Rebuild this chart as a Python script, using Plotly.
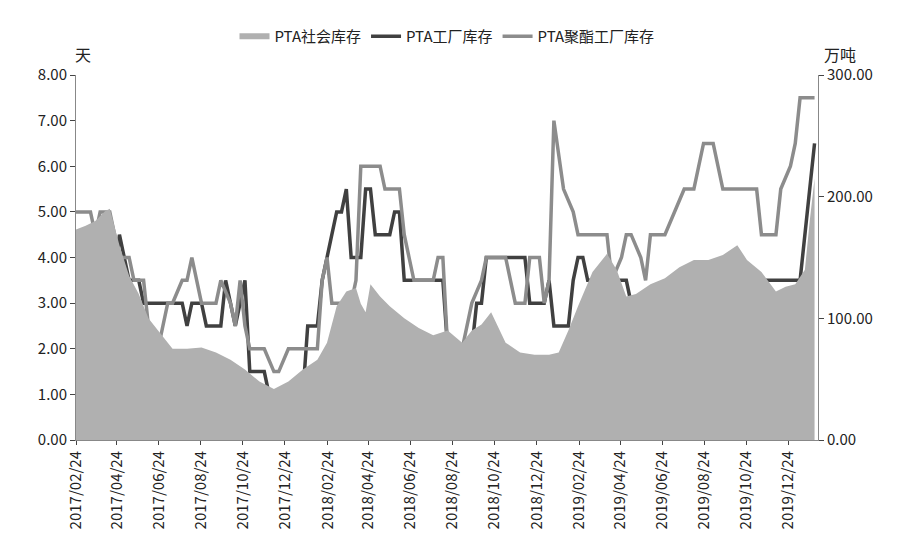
import plotly.graph_objects as go

soc_dates = ["2017-02-24","2017-03-10","2017-03-24","2017-04-07","2017-04-14","2017-04-28","2017-05-12","2017-05-26","2017-06-09","2017-06-23","2017-07-14","2017-08-04","2017-08-25","2017-09-15","2017-10-06","2017-10-27","2017-11-17","2017-12-08","2017-12-29","2018-01-19","2018-02-09","2018-02-23","2018-03-09","2018-03-23","2018-04-06","2018-04-13","2018-04-20","2018-04-27","2018-05-11","2018-05-25","2018-06-15","2018-07-06","2018-07-27","2018-08-17","2018-09-07","2018-09-21","2018-10-05","2018-10-19","2018-11-09","2018-11-30","2018-12-21","2019-01-11","2019-01-25","2019-02-08","2019-02-22","2019-03-15","2019-04-05","2019-04-19","2019-05-03","2019-05-17","2019-06-07","2019-06-28","2019-07-19","2019-08-09","2019-08-30","2019-09-20","2019-10-11","2019-10-25","2019-11-15","2019-12-06","2019-12-20","2020-01-03","2020-01-17","2020-01-24","2020-01-31"]
soc_vals = [173,176,180,188,190,160,135,120,100,90,75,75,76,72,66,58,48,42,48,58,66,80,110,122,125,112,105,128,118,110,100,92,86,90,80,90,95,105,80,72,70,70,72,90,110,138,153,140,118,120,128,133,142,148,148,152,160,148,138,122,126,128,140,180,215]

fac_dates = ["2017-02-24","2017-03-24","2017-03-31","2017-04-14","2017-04-21","2017-04-28","2017-05-05","2017-05-12","2017-05-26","2017-06-02","2017-07-28","2017-08-04","2017-08-11","2017-08-25","2017-09-01","2017-09-22","2017-09-29","2017-10-06","2017-10-13","2017-10-27","2017-11-03","2017-11-24","2017-12-01","2018-01-19","2018-01-26","2018-02-09","2018-02-16","2018-03-02","2018-03-09","2018-03-16","2018-03-23","2018-03-30","2018-04-13","2018-04-20","2018-04-27","2018-05-04","2018-05-25","2018-06-01","2018-06-08","2018-06-15","2018-08-10","2018-08-17","2018-09-21","2018-09-28","2018-10-05","2018-10-12","2018-12-07","2018-12-14","2019-01-04","2019-01-11","2019-01-18","2019-02-08","2019-02-15","2019-02-22","2019-03-01","2019-03-08","2019-05-03","2019-05-10","2019-08-02","2019-08-09","2020-01-10","2020-01-31"]
fac_vals = [3.5,3.5,3.0,3.0,3.5,4.5,4.0,3.5,3.5,3.0,3.0,2.5,3.0,3.0,2.5,2.5,3.5,3.0,2.5,3.5,1.5,1.5,1.0,1.0,2.5,2.5,3.5,4.5,5.0,5.0,5.5,4.0,4.0,5.5,5.5,4.5,4.5,5.0,5.0,3.5,3.5,2.0,2.0,3.0,3.0,4.0,4.0,3.0,3.0,3.5,2.5,2.5,3.5,4.0,4.0,3.5,3.5,3.0,3.0,3.5,3.5,6.5]

pol_dates = ["2017-02-24","2017-03-17","2017-03-24","2017-03-31","2017-04-14","2017-04-21","2017-04-28","2017-05-12","2017-05-19","2017-06-02","2017-06-09","2017-06-16","2017-06-23","2017-07-07","2017-07-14","2017-07-28","2017-08-04","2017-08-11","2017-08-25","2017-09-15","2017-09-22","2017-10-06","2017-10-13","2017-10-20","2017-10-27","2017-11-03","2017-11-17","2017-11-24","2017-12-08","2017-12-15","2017-12-29","2018-02-09","2018-02-16","2018-02-23","2018-03-02","2018-03-30","2018-04-06","2018-04-13","2018-05-11","2018-05-18","2018-06-08","2018-06-15","2018-06-22","2018-06-29","2018-07-27","2018-08-03","2018-08-10","2018-08-17","2018-09-07","2018-09-14","2018-09-21","2018-10-05","2018-10-12","2018-11-09","2018-11-16","2018-11-23","2018-12-07","2018-12-14","2018-12-28","2019-01-04","2019-01-11","2019-01-18","2019-02-01","2019-02-15","2019-02-22","2019-04-05","2019-04-12","2019-04-26","2019-05-03","2019-05-10","2019-05-24","2019-05-31","2019-06-07","2019-06-21","2019-06-28","2019-07-26","2019-08-09","2019-08-23","2019-09-06","2019-09-20","2019-09-27","2019-11-08","2019-11-15","2019-12-06","2019-12-13","2019-12-27","2020-01-03","2020-01-10","2020-01-31"]
pol_vals = [5.0,5.0,4.5,5.0,5.0,4.5,4.0,4.0,3.5,3.5,2.5,2.0,2.0,3.0,3.0,3.5,3.5,4.0,3.0,3.0,3.5,3.0,2.5,3.5,2.5,2.0,2.0,2.0,1.5,1.5,2.0,2.0,3.5,4.0,3.0,3.0,3.5,6.0,6.0,5.5,5.5,4.5,4.0,3.5,3.5,4.0,4.0,2.0,2.0,2.5,3.0,3.5,4.0,4.0,3.5,3.0,3.0,4.0,4.0,3.0,3.5,7.0,5.5,5.0,4.5,4.5,3.5,4.0,4.5,4.5,4.0,3.5,4.5,4.5,4.5,5.5,5.5,6.5,6.5,5.5,5.5,5.5,4.5,4.5,5.5,6.0,6.5,7.5,7.5]

tick_dates = ["2017-02-24","2017-04-24","2017-06-24","2017-08-24","2017-10-24","2017-12-24","2018-02-24","2018-04-24","2018-06-24","2018-08-24","2018-10-24","2018-12-24","2019-02-24","2019-04-24","2019-06-24","2019-08-24","2019-10-24","2019-12-24"]
tick_text = [d.replace("-", "/") for d in tick_dates]

fig = go.Figure()
fig.add_trace(go.Scatter(x=soc_dates, y=soc_vals, name="PTA社会库存", fill="tozeroy",
                         mode="none", fillcolor="#b0b0b0", yaxis="y2"))
fig.add_trace(go.Scatter(x=fac_dates, y=fac_vals, name="PTA工厂库存", mode="lines",
                         line=dict(color="#404040", width=3.5)))
fig.add_trace(go.Scatter(x=pol_dates, y=pol_vals, name="PTA聚酯工厂库存", mode="lines",
                         line=dict(color="#8c8c8c", width=3.5)))

font = dict(family="Noto Sans CJK SC", size=15, color="#222")
fig.update_layout(
    width=900, height=547, plot_bgcolor="white", paper_bgcolor="white",
    margin=dict(l=68, r=90, t=58, b=115), font=font,
    legend=dict(orientation="h", x=0.5, xanchor="center", y=1.06, yanchor="bottom",
                font=dict(size=15)),
    xaxis=dict(range=["2017-02-24", "2020-02-05"], tickvals=tick_dates, ticktext=tick_text,
               tickangle=-90, showgrid=False, showline=True, linecolor="#888",
               ticks="outside", ticklen=4),
    yaxis=dict(range=[0, 8], dtick=1, tickformat=".2f", showgrid=False, showline=True,
               linecolor="#888", ticks="outside", zeroline=False),
    yaxis2=dict(range=[0, 300], dtick=100, tickformat=".2f", overlaying="y", side="right",
                showgrid=False, showline=True, linecolor="#888", ticks="outside", zeroline=False),
    annotations=[
        dict(text="天", xref="paper", yref="paper", x=0.01, y=1.02, xanchor="center", yanchor="bottom", showarrow=False, font=dict(size=16)),
        dict(text="万吨", xref="paper", yref="paper", x=1.005, y=1.02, xanchor="left", yanchor="bottom", showarrow=False, font=dict(size=16)),
    ],
)
fig.write_html("out.html")
